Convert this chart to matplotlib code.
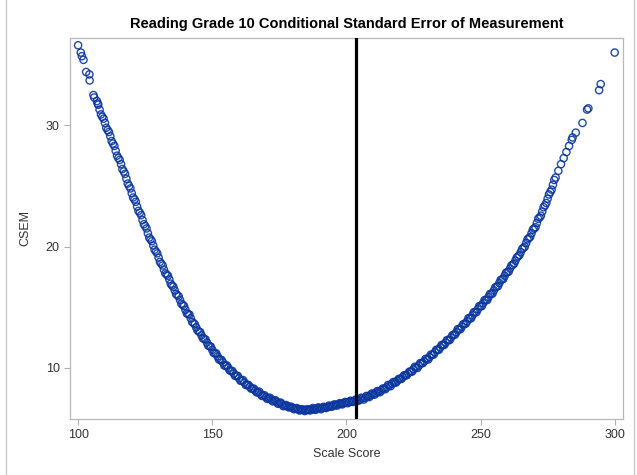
import matplotlib.pyplot as plt
from matplotlib.lines import Line2D

plt.rcParams['font.family'] = ['Liberation Sans', 'DejaVu Sans']

# scale scores and their CSEM (main band)
scale_score = [100, 101, 101.4, 102, 103, 104.2, 104.3, 105.7, 106, 107, 107.3, 108,
               109, 110, 111, 112, 113, 114, 115, 116, 117, 118, 119, 120,
               121, 122, 123, 124, 125, 126, 127, 128, 129, 130, 131, 132,
               133, 134, 135, 136, 137, 138, 139, 140, 141, 142, 143, 144,
               145, 146, 147, 148, 149, 150, 151, 152, 153, 154, 155, 156,
               157, 158, 159, 160, 161, 162, 163, 164, 165, 166, 167, 168,
               169, 170, 171, 172, 173, 174, 175, 176, 177, 178, 179, 180,
               181, 182, 183, 184, 185, 186, 187, 188, 189, 190, 191, 192,
               193, 194, 195, 196, 197, 198, 199, 200, 201, 202, 203, 204,
               205, 206, 207, 208, 209, 210, 211, 212, 213, 214, 215, 216,
               217, 218, 219, 220, 221, 222, 223, 224, 225, 226, 227, 228,
               229, 230, 231, 232, 233, 234, 235, 236, 237, 238, 239, 240,
               241, 242, 243, 244, 245, 246, 247, 248, 249, 250, 251, 252,
               253, 254, 255, 256, 257, 258, 259, 260, 261, 262, 263, 264,
               265, 266, 267, 268, 269, 270, 271, 272, 273, 274, 275, 276,
               277, 278, 279, 280, 281, 282, 283, 284, 284.3, 285.5, 288, 289.7,
               290.2, 294.2, 294.8, 300]
csem = [36.6, 36.0, 35.7, 35.4, 34.4, 34.2, 33.7, 32.5, 32.3, 32.0, 31.8, 31.3,
        30.7, 30.2, 29.6, 29.1, 28.5, 27.9, 27.3, 26.8, 26.2, 25.6, 25.0, 24.4,
        23.9, 23.3, 22.8, 22.2, 21.7, 21.1, 20.6, 20.1, 19.6, 19.1, 18.6, 18.1,
        17.7, 17.3, 16.8, 16.4, 16.0, 15.6, 15.2, 14.8, 14.45, 14.1, 13.7, 13.35,
        13.0, 12.7, 12.4, 12.1, 11.8, 11.5, 11.2, 10.95, 10.7, 10.45, 10.2, 10.0,
        9.75, 9.55, 9.35, 9.15, 8.95, 8.8, 8.6, 8.45, 8.3, 8.15, 8.0, 7.85,
        7.7, 7.6, 7.5, 7.4, 7.3, 7.2, 7.1, 7.0, 6.9, 6.85, 6.8, 6.7,
        6.65, 6.6, 6.55, 6.55, 6.55, 6.55, 6.6, 6.6, 6.65, 6.7, 6.7, 6.75,
        6.8, 6.85, 6.9, 6.95, 7.0, 7.05, 7.1, 7.15, 7.2, 7.25, 7.3, 7.35,
        7.4, 7.5, 7.55, 7.65, 7.75, 7.85, 7.95, 8.05, 8.15, 8.3, 8.4, 8.55,
        8.7, 8.8, 8.95, 9.1, 9.25, 9.4, 9.55, 9.7, 9.9, 10.05, 10.2, 10.4,
        10.55, 10.75, 10.9, 11.1, 11.3, 11.5, 11.7, 11.9, 12.1, 12.3, 12.5, 12.75,
        12.95, 13.2, 13.4, 13.65, 13.85, 14.1, 14.35, 14.6, 14.85, 15.1, 15.35, 15.6,
        15.85, 16.1, 16.4, 16.7, 17.0, 17.3, 17.6, 17.9, 18.2, 18.5, 18.85, 19.2,
        19.55, 19.9, 20.3, 20.7, 21.1, 21.5, 21.95, 22.4, 22.9, 23.4, 23.95, 24.5,
        25.1, 25.7, 26.25, 26.8, 27.3, 27.8, 28.3, 28.8, 29.0, 29.4, 30.2, 31.3,
        31.4, 32.9, 33.4, 36.0]

# in-between scores that thicken the band
scale_score_b = [107.5, 108.5, 109.5, 110.5, 111.5, 112.5, 113.5, 114.5, 115.5, 116.5,
                 117.5, 118.5, 119.5, 120.5, 121.5, 122.5, 123.5, 124.5, 125.5, 126.5,
                 127.5, 128.5, 129.5, 130.5, 131.5, 132.5, 133.5, 134.5, 135.5, 136.5,
                 137.5, 138.5, 139.5, 140.5, 141.5, 142.5, 143.5, 144.5, 145.5, 146.5,
                 147.5, 148.5, 149.5, 150.5, 151.5, 152.5, 153.5, 154.5, 155.5, 156.5,
                 157.5, 158.5, 159.5, 160.5, 161.5, 162.5, 163.5, 164.5, 165.5, 166.5,
                 167.5, 168.5, 169.5, 170.5, 171.5, 172.5, 173.5, 174.5, 175.5, 176.5,
                 177.5, 178.5, 179.5, 180.5, 181.5, 182.5, 183.5, 184.5, 185.5, 186.5,
                 187.5, 188.5, 189.5, 190.5, 191.5, 192.5, 193.5, 194.5, 195.5, 196.5,
                 197.5, 198.5, 199.5, 200.5, 201.5, 202.5, 203.5, 204.5, 205.5, 206.5,
                 207.5, 208.5, 209.5, 210.5, 211.5, 212.5, 213.5, 214.5, 215.5, 216.5,
                 217.5, 218.5, 219.5, 220.5, 221.5, 222.5, 223.5, 224.5, 225.5, 226.5,
                 227.5, 228.5, 229.5, 230.5, 231.5, 232.5, 233.5, 234.5, 235.5, 236.5,
                 237.5, 238.5, 239.5, 240.5, 241.5, 242.5, 243.5, 244.5, 245.5, 246.5,
                 247.5, 248.5, 249.5, 250.5, 251.5, 252.5, 253.5, 254.5, 255.5, 256.5,
                 257.5, 258.5, 259.5, 260.5, 261.5, 262.5, 263.5, 264.5, 265.5, 266.5,
                 267.5, 268.5, 269.5, 270.5, 271.5, 272.5, 273.5, 274.5, 275.5, 276.5,
                 277.5]
csem_b = [31.7, 30.9, 30.55, 29.8, 29.45, 28.7, 28.3, 27.5, 27.15, 26.4,
          26.0, 25.2, 24.8, 24.05, 23.7, 22.95, 22.6, 21.85, 21.5, 20.75,
          20.45, 19.75, 19.45, 18.75, 18.45, 17.8, 17.6, 16.95, 16.7, 16.1,
          15.9, 15.3, 15.1, 14.5, 14.4, 13.8, 13.6, 13.1, 12.95, 12.45,
          12.35, 11.85, 11.75, 11.25, 11.2, 10.7, 10.65, 10.2, 10.2, 9.8,
          9.75, 9.35, 9.35, 8.95, 9.0, 8.6, 8.6, 8.3, 8.3, 8.0,
          8.05, 7.7, 7.75, 7.45, 7.55, 7.25, 7.35, 7.05, 7.15, 6.85,
          6.95, 6.75, 6.8, 6.6, 6.7, 6.5, 6.6, 6.45, 6.6, 6.5,
          6.7, 6.55, 6.75, 6.6, 6.8, 6.7, 6.9, 6.8, 7.0, 6.9,
          7.1, 7.0, 7.2, 7.1, 7.3, 7.2, 7.4, 7.3, 7.55, 7.4,
          7.7, 7.6, 7.9, 7.8, 8.1, 8.0, 8.3, 8.25, 8.6, 8.5,
          8.85, 8.8, 9.1, 9.1, 9.4, 9.4, 9.7, 9.7, 10.1, 10.0,
          10.4, 10.4, 10.75, 10.7, 11.1, 11.1, 11.5, 11.5, 11.9, 11.9,
          12.3, 12.3, 12.7, 12.75, 13.2, 13.2, 13.6, 13.65, 14.1, 14.1,
          14.6, 14.6, 15.1, 15.1, 15.6, 15.6, 16.1, 16.15, 16.65, 16.75,
          17.25, 17.35, 17.85, 17.95, 18.45, 18.6, 19.1, 19.3, 19.8, 20.0,
          20.6, 20.8, 21.4, 21.6, 22.3, 22.55, 23.25, 23.6, 24.3, 24.7,
          25.5]
cut_score = 203.7

fig = plt.figure(figsize=(6.37, 4.75), dpi=100)
ax = fig.add_axes([0.110, 0.118, 0.868, 0.802])

ax.scatter(scale_score, csem, s=27, facecolors='none', edgecolors='#0a369e',
           linewidths=1.0, alpha=0.9, zorder=2)
ax.scatter(scale_score_b, csem_b, s=27, facecolors='none', edgecolors='#0a369e',
           linewidths=1.0, alpha=0.9, zorder=2)
ax.axvline(cut_score, color='black', linewidth=2.3, zorder=3)

ax.set_xlim(97.0, 303.1)
ax.set_ylim(5.8, 37.2)
ax.set_xticks([100, 150, 200, 250, 300])
ax.set_yticks([10, 20, 30])

ax.set_title('Reading Grade 10 Conditional Standard Error of Measurement',
             fontsize=10.5, fontweight='bold', pad=7)
ax.set_xlabel('Scale Score', fontsize=9, color='#333333', labelpad=5)
ax.set_ylabel('CSEM', fontsize=9, color='#333333', labelpad=10)

for s in ax.spines.values():
    s.set_color('#b8b8b8')
    s.set_linewidth(0.9)
ax.tick_params(colors='#b0b0b0', labelcolor='#333333', labelsize=9,
               length=4, width=0.8, direction='out')

# frame lines at both sides of the picture
fig.add_artist(Line2D([6.5 / 637, 6.5 / 637], [0, 1], color='#c8c8c8', linewidth=1))
fig.add_artist(Line2D([634 / 637, 634 / 637], [0, 1], color='#c8c8c8', linewidth=1))

fig.savefig('out.png', dpi=100)
